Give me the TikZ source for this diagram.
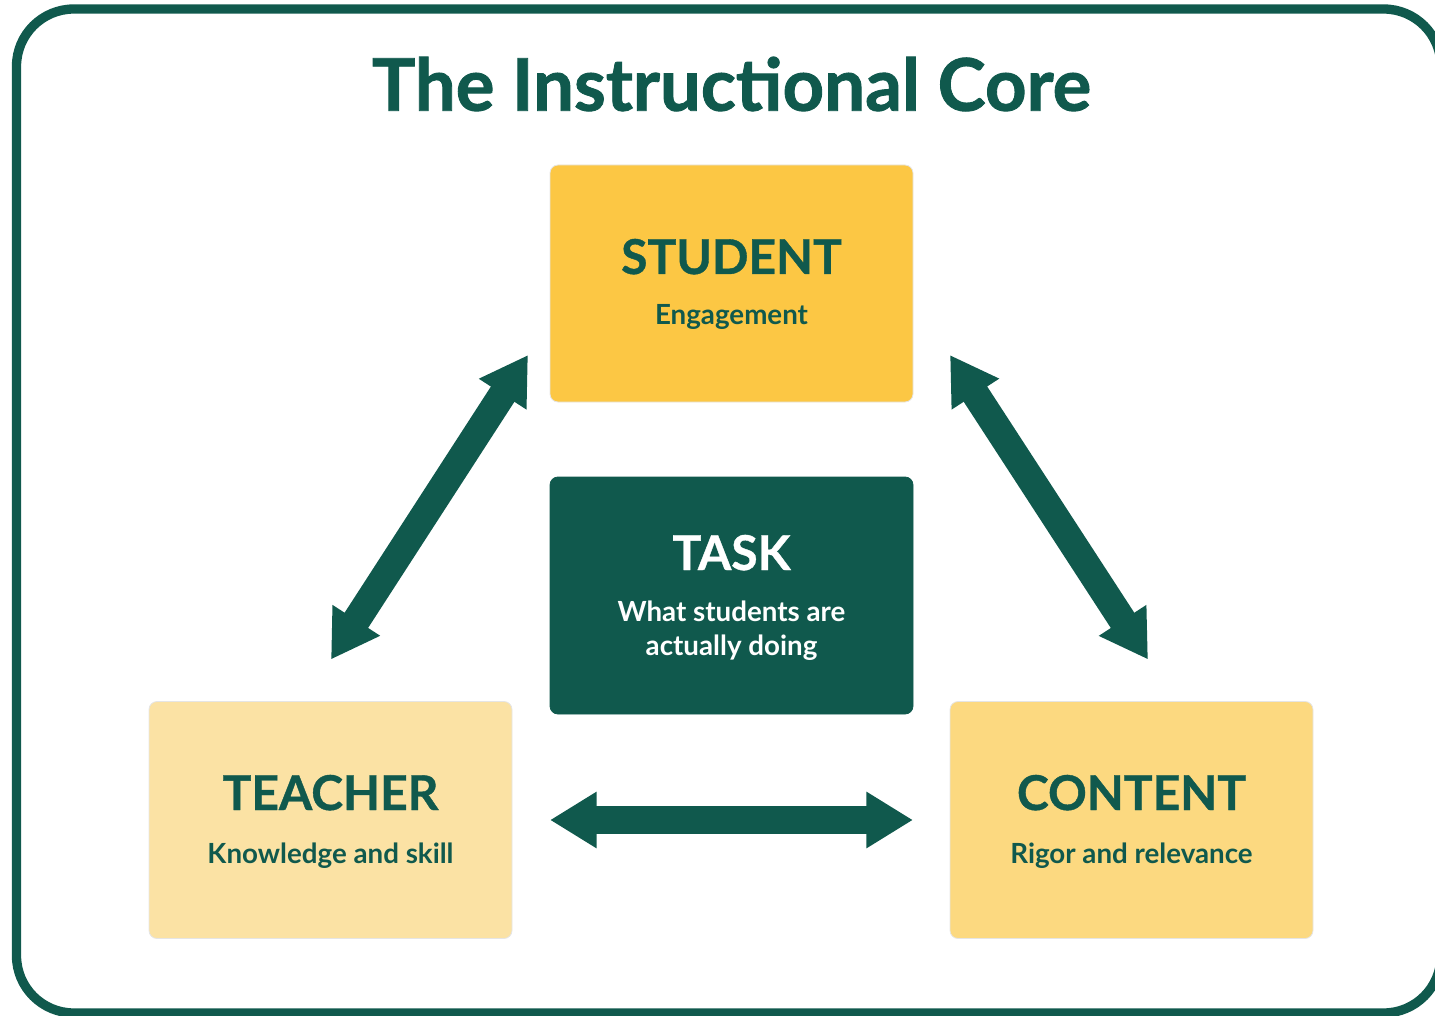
\documentclass[tikz,border=0pt]{standalone}
\usepackage{fontspec}
\setmainfont{Lato}
\newfontfamily\titlefont{Lato}[BoldFeatures={FakeBold=1.2}]
\newfontfamily\headfont{Lato}[BoldFeatures={FakeBold=0.8}]
\usetikzlibrary{arrows.meta,calc}
\definecolor{dkgreen}{HTML}{10594D}
\definecolor{studentY}{HTML}{FCC744}
\definecolor{teacherY}{HTML}{FBE2A4}
\definecolor{contentY}{HTML}{FCD980}
\begin{document}
\begin{tikzpicture}[x=0.75pt,y=-0.75pt,
  box/.style={rounded corners=6pt, minimum width=272.25pt, minimum height=177.75pt,
    inner sep=0pt, outer sep=0pt, draw=black!10, line width=0.6pt},
  head/.style={font=\headfont\fontsize{36}{40}\selectfont\bfseries, text=dkgreen, anchor=base, inner sep=0pt},
  sub/.style={font=\fontsize{20.8}{25.5}\selectfont\bfseries, text=dkgreen, anchor=base, inner sep=0pt, align=center},
  ttl/.style={font=\titlefont\fontsize{54.4}{60}\selectfont\bfseries, text=dkgreen, anchor=base, inner sep=0pt},
  dblarrow/.style={draw=dkgreen, line width=21pt,
    {Triangle[length=35pt,width=40pt]}-{Triangle[length=35pt,width=40pt]}}
]
\useasboundingbox (0,0) rectangle (1435,1016);
\begin{scope}
\clip (0,0) rectangle (1435,1016);
\draw[dkgreen, line width=7pt, rounded corners=43pt] (16.5,9) rectangle (1441,1013);
\end{scope}

\node[ttl] (title) at (731.5,110.7) {The Instructional Core};

% boxes
\node[box, fill=studentY] (student) at (731.5,283.5) {};
\node[box, fill=dkgreen, draw=dkgreen] (task) at (731.5,595.5) {};
\node[box, fill=teacherY] (teacher) at (330.5,820) {};
\node[box, fill=contentY] (content) at (1131.5,820) {};

% texts
\node[head] (studentH) at ($(student.center)+(0,-9.5)$) {STUDENT};
\node[sub] (studentS) at ($(student.center)+(0,41.5)$) {Engagement};
\node[head, text=white] (taskH) at ($(task.center)+(0,-25.5)$) {TASK};
\node[sub, text=white] (taskS1) at ($(task.center)+(0,26)$) {What students are};
\node[sub, text=white] (taskS2) at ($(task.center)+(0,60)$) {actually doing};
\node[head] (teacherH) at ($(teacher.center)+(0,-10)$) {TEACHER};
\node[sub] (teacherS) at ($(teacher.center)+(0,43)$) {Knowledge and skill};
\node[head] (contentH) at ($(content.center)+(0,-10)$) {CONTENT};
\node[sub] (contentS) at ($(content.center)+(0,43)$) {Rigor and relevance};

% arrow ends
\coordinate (ls) at ($(student.south west)+(-22,-47)$);
\coordinate (lt) at ($(teacher.north)+(0.5,-42)$);
\coordinate (rs) at ($(student.south east)+(37,-47)$);
\coordinate (rc) at ($(content.north)+(16.5,-42)$);

\draw[dblarrow] (lt) -- (ls);
\draw[dblarrow] (rs) -- (rc);
\draw[dblarrow, shorten <=28.5pt, shorten >=27.75pt] (teacher.east) -- (content.west);
\end{tikzpicture}
\end{document}
